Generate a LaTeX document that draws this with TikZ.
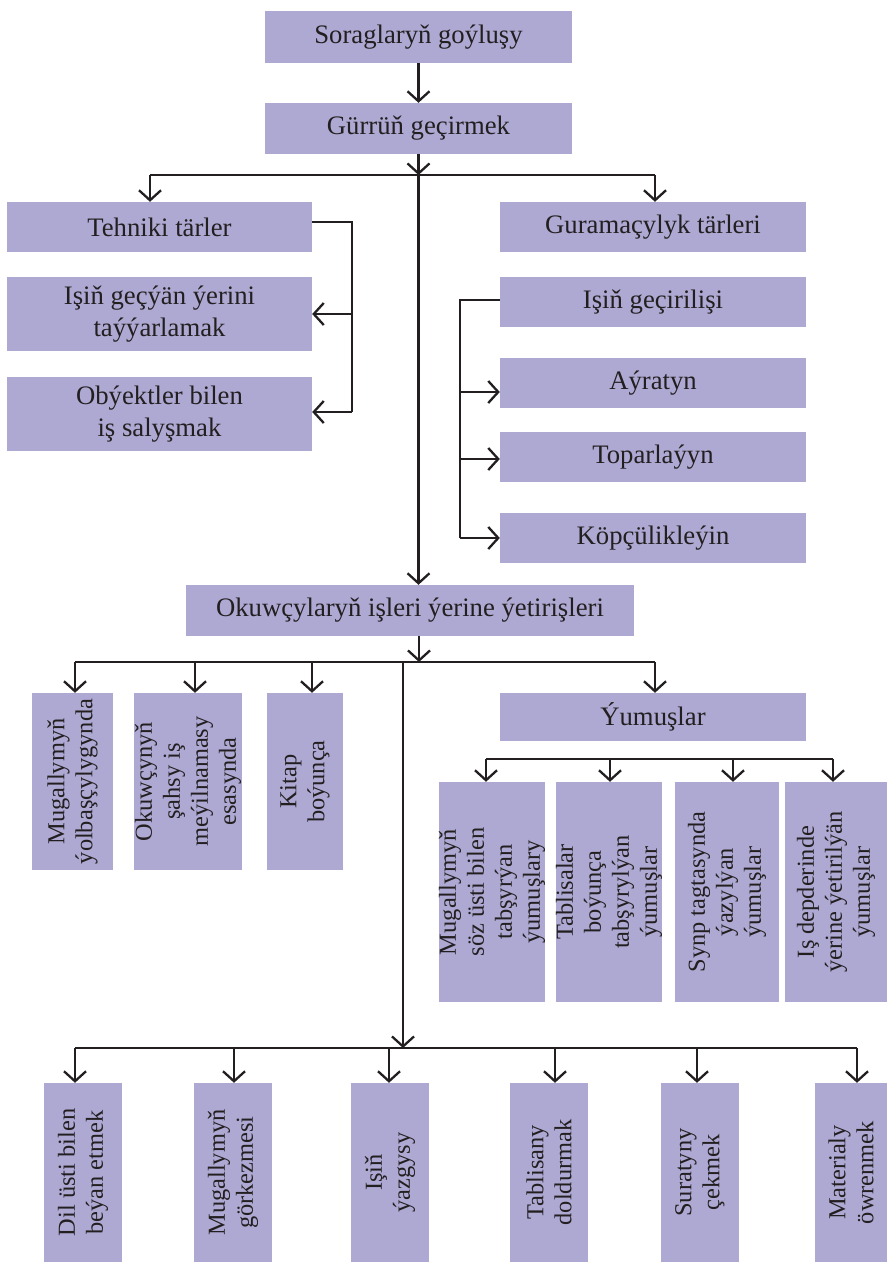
\documentclass[tikz,border=0pt]{standalone}
\usepackage{fontspec}
\setmainfont{Liberation Serif}
\usetikzlibrary{arrows.meta}
\definecolor{boxfill}{HTML}{AEA9D3}
\definecolor{ink}{HTML}{231F20}
\tikzset{
  hbox/.style={fill=boxfill, draw=none, inner sep=0pt, text=ink, align=center,
    font=\fontsize{26.7}{31.5}\selectfont},
  vbox/.style={fill=boxfill, draw=none, inner sep=0pt, text=ink, align=center, rotate=90,
    font=\fontsize{24.4}{28}\selectfont},
  conn/.style={draw=ink, line width=2.3pt},
  arr/.style={conn, -{Straight Barb[length=10pt,width=22pt]}},
}
\begin{document}
\begin{tikzpicture}[x=1pt,y=-1pt]
\useasboundingbox (0,0) rectangle (887,1262);
% top
\node[hbox, minimum width=307pt, minimum height=52pt] (b1) at (418.5,37) {Soraglaryň goýluşy};
\node[hbox, minimum width=307pt, minimum height=51pt] (b2) at (418.5,128.5) {Gürrüň geçirmek};
% left column
\node[hbox, minimum width=305pt, minimum height=50pt] (tech) at (159.5,227) {Tehniki tärler};
\node[hbox, minimum width=305pt, minimum height=74pt] (isg) at (159.5,314) {Işiň geçýän ýerini\\taýýarlamak};
\node[hbox, minimum width=305pt, minimum height=74pt] (obj) at (159.5,414) {Obýektler bilen\\iş salyşmak};
% right column
\node[hbox, minimum width=306pt, minimum height=50pt] (gur) at (653,227) {Guramaçylyk tärleri};
\node[hbox, minimum width=306pt, minimum height=50pt] (igc) at (653,302) {Işiň geçirilişi};
\node[hbox, minimum width=306pt, minimum height=50pt] (ayr) at (653,383) {Aýratyn};
\node[hbox, minimum width=306pt, minimum height=50pt] (top) at (653,457) {Toparlaýyn};
\node[hbox, minimum width=306pt, minimum height=50pt] (kop) at (653,538) {Köpçülikleýin};
% middle
\node[hbox, minimum width=448pt, minimum height=51pt] (okuw) at (410,610.5) {Okuwçylaryň işleri ýerine ýetirişleri};
\node[vbox, minimum width=177pt, minimum height=81pt] (m1) at (72.5,781.5) {Mugallymyň\\ýolbaşçylygynda};
\node[vbox, minimum width=177pt, minimum height=108pt] (m2) at (188,781.5) {Okuwçynyň\\şahsy iş\\meýilnamasy\\esasynda};
\node[vbox, minimum width=177pt, minimum height=76pt] (m3) at (305,781.5) {Kitap\\boýunça};
\node[hbox, minimum width=306pt, minimum height=48pt] (yum) at (653,717) {Ýumuşlar};
\node[vbox, minimum width=220pt, minimum height=106pt] (y1) at (492,892) {Mugallymyň\\söz üsti bilen\\tabşyrýan\\ýumuşlary};
\node[vbox, minimum width=220pt, minimum height=104pt] (y2) at (609,892) {Tablisalar\\boýunça\\tabşyrylýan\\ýumuşlar};
\node[vbox, minimum width=220pt, minimum height=104pt] (y3) at (727,892) {Synp tagtasynda\\ýazylýan\\ýumuşlar};
\node[vbox, minimum width=220pt, minimum height=102pt] (y4) at (836,892) {Iş depderinde\\ýerine ýetirilýän\\ýumuşlar};
% bottom
\node[vbox, minimum width=179pt, minimum height=78pt] (z1) at (83,1172.5) {Dil üsti bilen\\beýan etmek};
\node[vbox, minimum width=179pt, minimum height=78pt] (z2) at (233,1172.5) {Mugallymyň\\görkezmesi};
\node[vbox, minimum width=179pt, minimum height=78pt] (z3) at (390,1172.5) {Işiň\\ýazgysy};
\node[vbox, minimum width=179pt, minimum height=78pt] (z4) at (549,1172.5) {Tablisany\\doldurmak};
\node[vbox, minimum width=179pt, minimum height=78pt] (z5) at (700,1172.5) {Suratyny\\çekmek};
\node[vbox, minimum width=179pt, minimum height=72pt] (z6) at (851,1172.5) {Materialy\\öwrenmek};

% coordinates
\coordinate (bus1c) at (418.5,175);
\coordinate (bus1L) at (150,175);
\coordinate (bus1R) at (655,175);
\coordinate (tbm) at (352,314);
\coordinate (tbr) at (352,412);
\coordinate (rbx) at (460,300);
\coordinate (rb1) at (460,392);
\coordinate (rb2) at (460,459);
\coordinate (rb3) at (460,538);
\coordinate (o2) at (419,662);
\coordinate (bus2L) at (75,662);
\coordinate (bus2a) at (195,662);
\coordinate (bus2b) at (312,662);
\coordinate (bus2R) at (655,662);
\coordinate (d1) at (403,662);
\coordinate (d2) at (403,1048);
\coordinate (bus3L) at (486,759);
\coordinate (bus3a) at (610,759);
\coordinate (bus3b) at (733,759);
\coordinate (bus3R) at (833,759);
\coordinate (bus4L) at (75,1048);
\coordinate (bus4a) at (234,1048);
\coordinate (bus4b) at (389,1048);
\coordinate (bus4c) at (555,1048);
\coordinate (bus4d) at (697,1048);
\coordinate (bus4R) at (857,1048);

% connectors
\draw[arr] (b1.south) -- (b2.north);
\draw[arr] (b2.south) -- (b2.south |- okuw.north);
\draw[arr] (b2.south) -- (bus1c);
\draw[conn] (bus1L) -- (bus1R);
\draw[arr] (bus1L) -- (bus1L |- tech.north);
\draw[arr] (bus1R) -- (bus1R |- gur.north);
% left bracket
\draw[conn] ([yshift=5pt]tech.east) -| (tbr);
\draw[arr] (tbm) -- (tbm -| isg.east);
\draw[arr] (tbr) -- (tbr -| obj.east);
% right bracket
\draw[conn] (rbx -| igc.west) -- (rbx) -- (rb3);
\draw[arr] (rb1) -- (rb1 -| ayr.west);
\draw[arr] (rb2) -- (rb2 -| top.west);
\draw[arr] (rb3) -- (rb3 -| kop.west);
% okuw bus
\draw[arr] (o2 |- okuw.south) -- (o2);
\draw[conn] (bus2L) -- (bus2R);
\draw[arr] (bus2L) -- (bus2L |- m1.east);
\draw[arr] (bus2a) -- (bus2a |- m2.east);
\draw[arr] (bus2b) -- (bus2b |- m3.east);
\draw[arr] (bus2R) -- (bus2R |- yum.north);
\draw[arr] (d1) -- (d2);
% yumus bus
\draw[conn] (bus3L) -- (bus3R);
\draw[arr] (bus3L) -- (bus3L |- y1.east);
\draw[arr] (bus3a) -- (bus3a |- y2.east);
\draw[arr] (bus3b) -- (bus3b |- y3.east);
\draw[arr] (bus3R) -- (bus3R |- y4.east);
% bottom bus
\draw[conn] (bus4L) -- (bus4R);
\draw[arr] (bus4L) -- (bus4L |- z1.east);
\draw[arr] (bus4a) -- (bus4a |- z2.east);
\draw[arr] (bus4b) -- (bus4b |- z3.east);
\draw[arr] (bus4c) -- (bus4c |- z4.east);
\draw[arr] (bus4d) -- (bus4d |- z5.east);
\draw[arr] (bus4R) -- (bus4R |- z6.east);
\end{tikzpicture}
\end{document}
